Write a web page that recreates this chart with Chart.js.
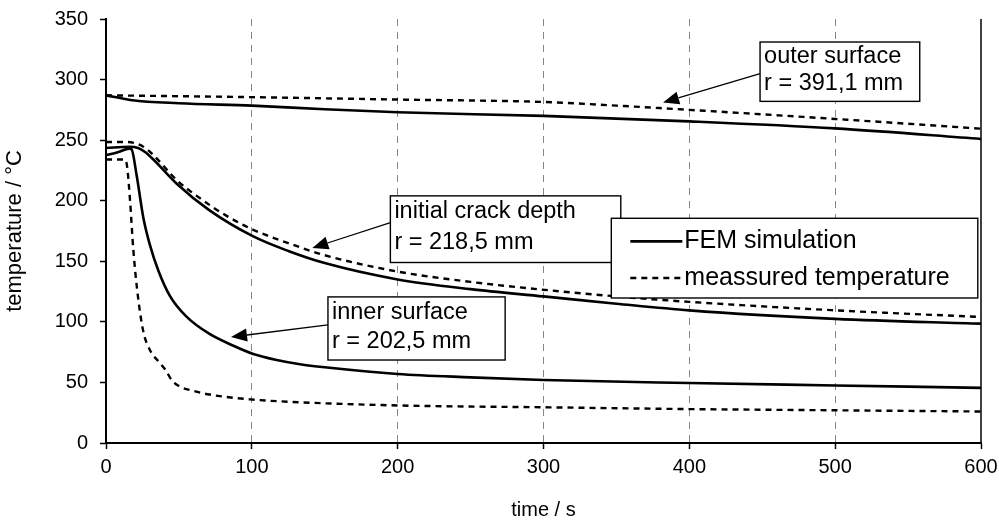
<!DOCTYPE html>
<html>
<head>
<meta charset="utf-8">
<script src="https://cdn.jsdelivr.net/npm/chart.js@4.4.1/dist/chart.umd.min.js"></script>
<style>
html,body{margin:0;padding:0;background:#fff;}
#wrap{width:999px;height:526px;position:relative;}
</style>
</head>
<body>
<div id="wrap"><canvas id="c"></canvas></div>
<script>
// ---- tick labels / axes ----
const xTickValues = [0, 100, 200, 300, 400, 500, 600];
const yTickValues = [0, 50, 100, 150, 200, 250, 300, 350];
const xTitle = 'time / s';
const yTitle = 'temperature / °C';
const legendLabels = ['FEM simulation', 'meassured temperature'];

// ---- outer surface r = 391,1 mm ----
const outerFemTime = [0, 18, 50, 100, 150, 200, 300, 400, 500, 600];
const outerFemTemp = [287, 283, 280.5, 278.5, 275.5, 273, 270, 265.5, 259.7, 251];
const outerMeasTime = [0, 100, 200, 300, 350, 400, 500, 600];
const outerMeasTemp = [287, 285.5, 283.5, 281.5, 278.5, 275, 267.5, 259.5];

// ---- initial crack depth r = 218,5 mm ----
const crackFemTime = [0, 16, 22, 27, 32.5, 48.5, 71, 101, 125, 150, 200, 250, 300, 350, 400, 500, 600];
const crackFemTemp = [243.5, 244.5, 243.5, 240, 234, 214, 192, 170.5, 158.5, 148.5, 135, 127, 121, 115, 109.5, 102.5, 98.5];
const crackMeasTime = [0, 15, 20, 25.6, 32.5, 48.5, 64.5, 82.7, 101, 125, 150, 200, 250, 300, 350, 400, 500, 600];
const crackMeasTemp = [248.5, 248.5, 247.5, 244.6, 237.7, 217, 202, 187.5, 176, 165, 155, 141.5, 133, 126.5, 121, 116.5, 109.5, 104];

// ---- inner surface r = 202,5 mm ----
const innerFemTime = [0, 8, 16, 17.5, 21, 25.6, 30, 36, 44, 55, 71, 87, 101, 117, 133, 150, 200, 250, 300, 400, 500, 600];
const innerFemTemp = [237.5, 240, 243, 242.5, 221, 186, 164, 142, 121, 104.5, 90, 80.5, 73.5, 68.5, 65, 62.5, 57, 54.2, 52, 49.5, 47.5, 45.5];
const innerMeasTime = [0, 13, 14.5, 16.5, 18.7, 22, 25.6, 30, 37, 41, 45, 50, 60, 71, 99, 126, 200, 300, 400, 500, 600];
const innerMeasTemp = [234, 234, 228, 200, 160, 120, 92, 77, 66, 60, 52, 47, 43, 40, 36, 34, 31, 29.5, 28, 27, 26];

// ---- annotation texts and where they point (data coords) ----
const annotations = [
  { lines: ['outer surface', 'r = 391,1 mm'], box: [448.5, 331, 558, 282], from: [448.5, 305], to: [382, 281] },
  { lines: ['initial crack depth', 'r = 218,5 mm'], box: [195, 204, 353, 149], from: [195, 182], to: [141.5, 161] },
  { lines: ['inner surface', 'r = 202,5 mm'], box: [152.2, 120.6, 273.7, 68.5], from: [152.2, 97.5], to: [85.7, 87.5] }
];
const legendBox = [346.5, 185.5, 597.8, 119.7];

function pts(t, v) { return t.map((x, i) => ({ x: x, y: v[i] })); }

const solid = { borderColor: '#000', borderWidth: 2.6, pointRadius: 0, fill: false, cubicInterpolationMode: 'monotone' };
const dashed = { borderColor: '#000', borderWidth: 2.4, borderDash: [6, 5], pointRadius: 0, fill: false, cubicInterpolationMode: 'monotone' };

const datasets = [
  Object.assign({ label: 'outer FEM', data: pts(outerFemTime, outerFemTemp) }, solid),
  Object.assign({ label: 'outer measured', data: pts(outerMeasTime, outerMeasTemp) }, dashed),
  Object.assign({ label: 'crack FEM', data: pts(crackFemTime, crackFemTemp) }, solid),
  Object.assign({ label: 'crack measured', data: pts(crackMeasTime, crackMeasTemp) }, dashed),
  Object.assign({ label: 'inner FEM', data: pts(innerFemTime, innerFemTemp) }, solid),
  Object.assign({ label: 'inner measured', data: pts(innerMeasTime, innerMeasTemp) }, dashed)
];

const FONT = '"Liberation Sans", Arial, Helvetica, sans-serif';

function arrow(ctx, x1, y1, x2, y2) {
  const ang = Math.atan2(y2 - y1, x2 - x1);
  const L = 16, W = 6.5;
  const bx = x2 - L * Math.cos(ang), by = y2 - L * Math.sin(ang);
  ctx.beginPath();
  ctx.moveTo(x1, y1);
  ctx.lineTo(bx, by);
  ctx.lineWidth = 1.3;
  ctx.strokeStyle = '#000';
  ctx.stroke();
  ctx.beginPath();
  ctx.moveTo(x2, y2);
  ctx.lineTo(bx + W * Math.sin(ang), by - W * Math.cos(ang));
  ctx.lineTo(bx - W * Math.sin(ang), by + W * Math.cos(ang));
  ctx.closePath();
  ctx.fillStyle = '#000';
  ctx.fill();
}

const overlay = {
  id: 'overlay',
  afterDatasetsDraw(chart) {
    const ctx = chart.ctx, xs = chart.scales.x, ys = chart.scales.y, ca = chart.chartArea;
    ctx.save();
    // right frame line
    ctx.beginPath();
    ctx.moveTo(ca.right, ca.top);
    ctx.lineTo(ca.right, ca.bottom);
    ctx.lineWidth = 1.5;
    ctx.strokeStyle = '#000';
    ctx.stroke();

    ctx.font = '23.5px ' + FONT;
    ctx.textBaseline = 'middle';
    ctx.textAlign = 'left';
    annotations.forEach(a => {
      const x1 = xs.getPixelForValue(a.box[0]), y1 = ys.getPixelForValue(a.box[1]);
      const x2 = xs.getPixelForValue(a.box[2]), y2 = ys.getPixelForValue(a.box[3]);
      arrow(ctx, xs.getPixelForValue(a.from[0]), ys.getPixelForValue(a.from[1]),
                 xs.getPixelForValue(a.to[0]), ys.getPixelForValue(a.to[1]));
      ctx.fillStyle = '#fff';
      ctx.fillRect(x1, y1, x2 - x1, y2 - y1);
      ctx.lineWidth = 1.4;
      ctx.strokeStyle = '#000';
      ctx.strokeRect(x1, y1, x2 - x1, y2 - y1);
      ctx.fillStyle = '#000';
      const h = y2 - y1;
      ctx.fillText(a.lines[0], x1 + 4, y1 + h * 0.24);
      ctx.fillText(a.lines[1], x1 + 4, y1 + h * 0.70);
    });

    // legend
    const lx1 = xs.getPixelForValue(legendBox[0]), ly1 = ys.getPixelForValue(legendBox[1]);
    const lx2 = xs.getPixelForValue(legendBox[2]), ly2 = ys.getPixelForValue(legendBox[3]);
    ctx.fillStyle = '#fff';
    ctx.fillRect(lx1, ly1, lx2 - lx1, ly2 - ly1);
    ctx.lineWidth = 1.4;
    ctx.strokeStyle = '#000';
    ctx.strokeRect(lx1, ly1, lx2 - lx1, ly2 - ly1);
    const lh = ly2 - ly1;
    const rows = [ly1 + lh * 0.29, ly1 + lh * 0.75];
    ctx.font = '25px ' + FONT;
    [solid, dashed].forEach((st, i) => {
      ctx.beginPath();
      ctx.setLineDash(st.borderDash || []);
      ctx.moveTo(lx1 + 19, rows[i]);
      ctx.lineTo(lx1 + 71, rows[i]);
      ctx.lineWidth = st.borderWidth;
      ctx.strokeStyle = '#000';
      ctx.stroke();
      ctx.setLineDash([]);
      ctx.fillStyle = '#000';
      ctx.fillText(legendLabels[i], lx1 + 73, rows[i]);
    });
    ctx.restore();
  }
};

new Chart(document.getElementById('c'), {
  type: 'line',
  data: { datasets: datasets },
  plugins: [overlay],
  options: {
    responsive: true,
    maintainAspectRatio: false,
    animation: false,
    layout: { padding: { top: 19, right: 18, left: 0, bottom: 0 } },
    plugins: { legend: { display: false }, tooltip: { enabled: false } },
    scales: {
      x: {
        type: 'linear', min: 0, max: 600,
        afterBuildTicks: s => { s.ticks = xTickValues.map(v => ({ value: v })); },
        afterFit: s => { s.height = 83; s.paddingLeft = 0; s.paddingRight = 0; },
        ticks: { color: '#000', font: { family: FONT, size: 20 }, padding: 6, maxRotation: 0 },
        grid: {
          color: c => (c.tick && (c.tick.value === 0 || c.tick.value === 600)) ? 'rgba(0,0,0,0)' : '#888',
          lineWidth: 1, tickColor: '#000', tickLength: 6, tickWidth: 1.5
        },
        border: { display: true, color: '#000', width: 2, dash: [7, 6] },
        title: { display: true, text: xTitle, color: '#000', font: { family: FONT, size: 20 }, padding: { top: 4, bottom: 4 } }
      },
      y: {
        type: 'linear', min: 0, max: 350,
        afterBuildTicks: s => { s.ticks = yTickValues.map(v => ({ value: v })); },
        afterFit: s => { s.width = 106; s.paddingTop = 0; s.paddingBottom = 0; },
        ticks: { color: '#000', font: { family: FONT, size: 20 }, padding: 12 },
        grid: { drawOnChartArea: false, tickColor: '#000', tickLength: 6, tickWidth: 1.5 },
        border: { display: true, color: '#000', width: 2 },
        title: { display: true, text: yTitle, color: '#000', font: { family: FONT, size: 22 }, padding: { top: 2, bottom: 4 } }
      }
    }
  }
});
</script>
</body>
</html>
